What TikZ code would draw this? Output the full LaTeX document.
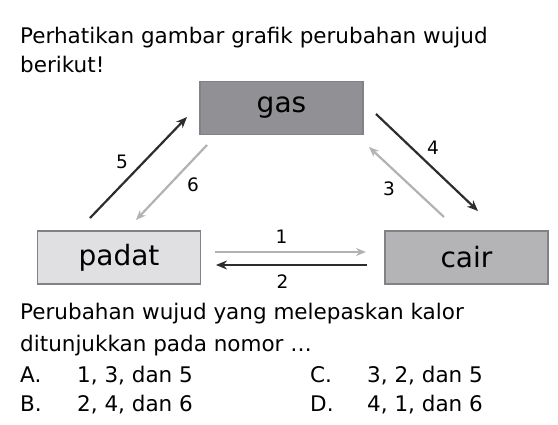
\documentclass[tikz,border=0pt]{standalone}
\usepackage{fontspec}
\setmainfont{DejaVu Sans}
\usetikzlibrary{arrows.meta,positioning,calc}
\definecolor{gasfill}{RGB}{144,144,149}
\definecolor{cairfill}{RGB}{180,180,182}
\definecolor{padatfill}{RGB}{224,224,226}
\definecolor{boxline}{RGB}{130,130,134}
\definecolor{darkarrow}{RGB}{45,45,45}
\definecolor{lightarrow}{RGB}{178,178,178}

\begin{document}
\begin{tikzpicture}[x=1pt,y=-1pt,
  state/.style={draw=boxline,line width=1.4pt,minimum width=163pt,minimum height=53pt,inner sep=0pt,font=\fontsize{28}{30}\selectfont},
  txt/.style={anchor=base west,inner sep=0pt,font=\fontsize{21.5}{26}\selectfont},
  num/.style={font=\fontsize{18.5}{20}\selectfont,inner sep=0pt},
  dark/.style={draw=darkarrow,line width=2.2pt,-{Stealth[length=11pt,width=9pt]}},
  light/.style={draw=lightarrow,line width=2.2pt,-{Stealth[length=10pt,width=8pt]}}]
\useasboundingbox (0,0) rectangle (558,425);
% soal
\node[txt] (q1) at (20,44) {Perhatikan gambar grafik perubahan wujud};
\node[txt] (q2) at (20,73) {berikut!};
% wujud zat
\node[state,fill=gasfill] (gas) at (281.5,108) {gas};
\node[state,fill=padatfill] (padat) at (119,257.5) {padat};
\node[state,fill=cairfill] (cair) at (466.5,257.5) {cair};
% ujung panah
\coordinate (p5a) at (90,218);  \coordinate (p5b) at (187,117);
\coordinate (p6a) at (207,145); \coordinate (p6b) at (136,220);
\coordinate (p4a) at (376,114); \coordinate (p4b) at (478,211);
\coordinate (p3a) at (444,217); \coordinate (p3b) at (369,147);
\coordinate (p1a) at (215,252); \coordinate (p1b) at (366,252);
\coordinate (p2a) at (367,265); \coordinate (p2b) at (216,265);
\draw[dark] (p5a) -- node[num,xshift=-16.5pt,yshift=5.5pt] {5} (p5b);
\draw[dark] (p4a) -- node[num,xshift=6pt,yshift=15pt] {4} (p4b);
\draw[dark] (p2a) -- node[num,xshift=-9pt,yshift=-17pt] {2} (p2b);
\draw[light] (p6a) -- node[num,xshift=21.5pt,yshift=-2.5pt] {6} (p6b);
\draw[light] (p3a) -- node[num,xshift=-17.5pt,yshift=-7pt] {3} (p3b);
\draw[light] (p1a) -- node[num,xshift=-9pt,yshift=15pt] {1} (p1b);
% pertanyaan
\node[txt] (q3) at (20,320) {Perubahan wujud yang melepaskan kalor};
\node[txt] (q4) at (20,352) {ditunjukkan pada nomor \dots};
\node[txt] (oa) at (20,383) {A.};
\node[txt] (ta) at (77,383) {1, 3, dan 5};
\node[txt] (ob) at (20,411) {B.};
\node[txt] (tb) at (77,411) {2, 4, dan 6};
\node[txt] (oc) at (310,383) {C.};
\node[txt] (tc) at (367,383) {3, 2, dan 5};
\node[txt] (od) at (310,411) {D.};
\node[txt] (td) at (367,411) {4, 1, dan 6};
\end{tikzpicture}
\end{document}
